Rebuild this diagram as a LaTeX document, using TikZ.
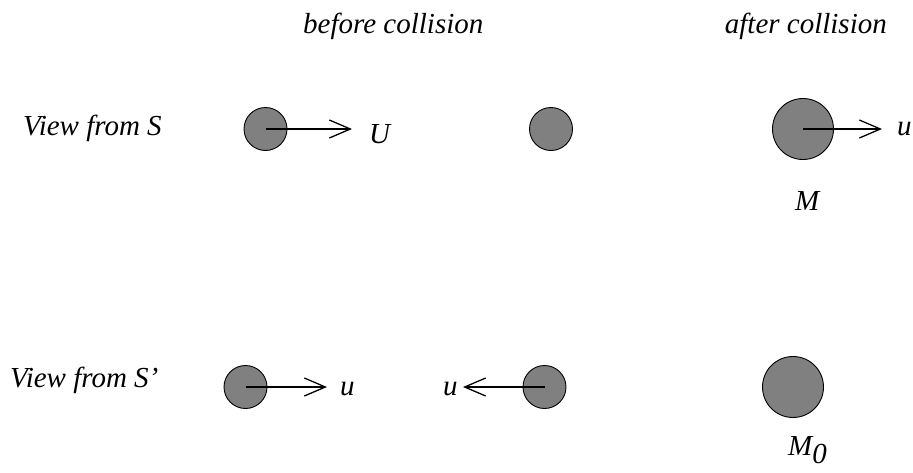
\documentclass[tikz,border=0pt]{standalone}
\usepackage{fontspec}
\setmainfont{Liberation Serif}
\usetikzlibrary{arrows.meta}
\begin{document}
\begin{tikzpicture}[x=1pt,y=-1pt,
  ball/.style={circle,draw=black,line width=0.9pt,fill={rgb,255:red,128;green,128;blue,128},inner sep=0pt},
  small/.style={ball,minimum size=43pt},
  big/.style={ball,minimum size=61pt},
  txt/.style={anchor=base west,inner sep=0pt,font=\fontsize{29}{32}\selectfont\itshape},
  vel/.style={line width=1.3pt,-{Straight Barb[length=21pt,width=18pt,line width=1.3pt]}}]
\useasboundingbox (0,0) rectangle (913,472);
% headings
\node[txt] (hb) at (303,33) {before collision};
\node[txt,anchor=base east] (ha) at (887,33) {after collision};
\node[txt] (vs) at (23,135) {View from S};
\node[txt] (vsp) at (10,387) {View from S’};
% top row
\node[small] (a1) at (265.5,129) {};
\node[small] (a2) at (551,129) {};
\node[big] (a3) at (803,129) {};
\coordinate (t1) at (352,129);
\coordinate (t3) at (882,129);
\draw[vel] (a1.center) -- (t1);
\draw[vel] (a3.center) -- (t3);
\node[txt] (lU) at (369,143) {U};
\node[txt] (lu1) at (897,135) {u};
\node[txt] (lM) at (795,210) {M};
% bottom row
\node[small] (b1) at (245.5,387) {};
\node[small] (b2) at (544.5,387) {};
\node[big] (b3) at (793,387) {};
\coordinate (s1) at (327,387);
\coordinate (s2) at (463,387);
\draw[vel] (b1.center) -- (s1);
\draw[vel] (b2.center) -- (s2);
\node[txt] (lu2) at (340,395) {u};
\node[txt] (lu3) at (443,395) {u};
\node[txt] (lM0) at (788,455) {M\raisebox{-8pt}{0}};
\end{tikzpicture}
\end{document}
